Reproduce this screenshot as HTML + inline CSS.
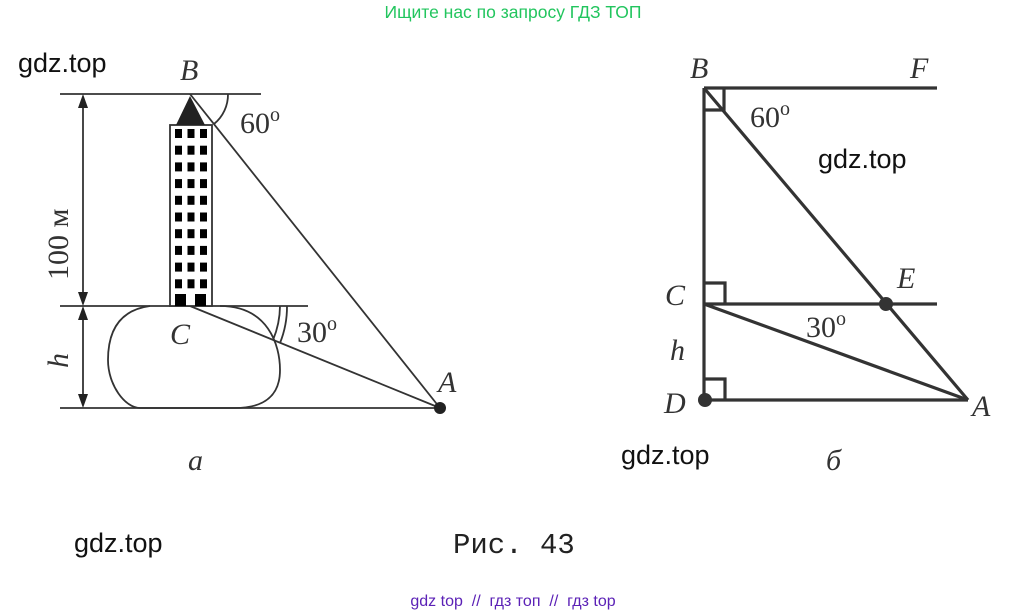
<!DOCTYPE html>
<html><head><meta charset="utf-8"><style>
body{margin:0;background:#fff;width:1027px;height:615px;overflow:hidden}
svg{display:block}
.s{font-family:"Liberation Serif",serif;font-style:italic;fill:#333;font-size:30px}
.n{font-family:"Liberation Serif",serif;fill:#333;font-size:30px}
.w{font-family:"Liberation Sans",sans-serif;fill:#111;font-size:27px}
</style></head><body>
<svg width="1027" height="615" viewBox="0 0 1027 615">
<text x="513" y="18" text-anchor="middle" font-family="Liberation Sans,sans-serif" font-size="17.5" fill="#22c55e">Ищите нас по запросу ГДЗ ТОП</text>
<text x="513" y="606" text-anchor="middle" font-family="Liberation Sans,sans-serif" font-size="16" fill="#5b21b6" xml:space="preserve">gdz top  //  гдз топ  //  гдз top</text>
<text class="w" x="18" y="72">gdz.top</text>
<text class="w" x="818" y="168">gdz.top</text>
<text class="w" x="621" y="464">gdz.top</text>
<text class="w" x="74" y="552">gdz.top</text>
<text x="453" y="553" font-family="Liberation Mono,monospace" font-size="29" fill="#222">Рис. 43</text>
<g stroke="#333" stroke-width="1.8" fill="none">
<line x1="60" y1="94" x2="261" y2="94"/>
<line x1="60" y1="306" x2="308" y2="306"/>
<line x1="60" y1="408" x2="440" y2="408"/>
<line x1="190" y1="94" x2="440" y2="408"/>
<line x1="190" y1="306" x2="440" y2="408"/>
<line x1="83" y1="100" x2="83" y2="300"/>
<line x1="83" y1="312" x2="83" y2="402"/>
<path d="M150 306 C120 310 108 330 108 360 C108 385 125 408 140 408 L235 408 C265 408 280 395 280 370 C280 345 268 306 220 306"/>
<path d="M228 94 A38 38 0 0 1 214 124"/>
<path d="M280 306 A90 90 0 0 1 273 340"/>
<path d="M287 306 A97 97 0 0 1 280 343"/>
<rect x="170" y="125" width="42" height="181" fill="#fff"/>
</g>
<g fill="#222">
<path d="M83 94 l-5 14 h10z M83 306 l-5 -14 h10z M83 306 l-5 14 h10z M83 408 l-5 -14 h10z"/>
<path d="M190 96 L176 125 L205 125 Z"/>
<circle cx="440" cy="408" r="6"/>
</g>
<g fill="#000">
<rect x="175" y="129" width="7" height="9"/><rect x="187.5" y="129" width="7" height="9"/><rect x="200" y="129" width="7" height="9"/>
<rect x="175" y="145.7" width="7" height="9"/><rect x="187.5" y="145.7" width="7" height="9"/><rect x="200" y="145.7" width="7" height="9"/>
<rect x="175" y="162.4" width="7" height="9"/><rect x="187.5" y="162.4" width="7" height="9"/><rect x="200" y="162.4" width="7" height="9"/>
<rect x="175" y="179.1" width="7" height="9"/><rect x="187.5" y="179.1" width="7" height="9"/><rect x="200" y="179.1" width="7" height="9"/>
<rect x="175" y="195.8" width="7" height="9"/><rect x="187.5" y="195.8" width="7" height="9"/><rect x="200" y="195.8" width="7" height="9"/>
<rect x="175" y="212.5" width="7" height="9"/><rect x="187.5" y="212.5" width="7" height="9"/><rect x="200" y="212.5" width="7" height="9"/>
<rect x="175" y="229.2" width="7" height="9"/><rect x="187.5" y="229.2" width="7" height="9"/><rect x="200" y="229.2" width="7" height="9"/>
<rect x="175" y="245.9" width="7" height="9"/><rect x="187.5" y="245.9" width="7" height="9"/><rect x="200" y="245.9" width="7" height="9"/>
<rect x="175" y="262.6" width="7" height="9"/><rect x="187.5" y="262.6" width="7" height="9"/><rect x="200" y="262.6" width="7" height="9"/>
<rect x="175" y="279.3" width="7" height="9"/><rect x="187.5" y="279.3" width="7" height="9"/><rect x="200" y="279.3" width="7" height="9"/>
<rect x="175" y="294" width="11" height="12"/><rect x="195" y="294" width="11" height="12"/>
</g>
<text class="s" x="180" y="80">B</text>
<text class="n" x="240" y="133">60<tspan dy="-12" font-size="20">o</tspan></text>
<text class="s" x="170" y="344">C</text>
<text class="n" x="297" y="342">30<tspan dy="-12" font-size="20">o</tspan></text>
<text class="s" x="438" y="392">A</text>
<text class="n" transform="translate(68 280) rotate(-90)" font-size="30">100 м</text>
<text class="s" transform="translate(68 368) rotate(-90)">h</text>
<text class="s" x="188" y="470">a</text>
<g stroke="#333" stroke-width="3.2" fill="none">
<line x1="704" y1="88" x2="937" y2="88"/>
<line x1="704" y1="88" x2="704" y2="400"/>
<line x1="704" y1="304" x2="937" y2="304"/>
<line x1="704" y1="400" x2="968" y2="400"/>
<line x1="704" y1="88" x2="968" y2="400"/>
<line x1="704" y1="304" x2="968" y2="400"/>
<path d="M704 110 H724 V88"/>
<path d="M704 283 H725 V304"/>
<path d="M704 379 H725 V400"/>
</g>
<g fill="#333"><circle cx="886" cy="304" r="7"/><circle cx="705" cy="400" r="7"/></g>
<text class="s" x="690" y="78">B</text>
<text class="s" x="910" y="78">F</text>
<text class="n" x="750" y="127">60<tspan dy="-12" font-size="20">o</tspan></text>
<text class="s" x="897" y="288">E</text>
<text class="s" x="665" y="305">C</text>
<text class="n" x="806" y="337">30<tspan dy="-12" font-size="20">o</tspan></text>
<text class="s" x="670" y="360">h</text>
<text class="s" x="664" y="413">D</text>
<text class="s" x="972" y="416">A</text>
<text class="s" x="826" y="470">б</text>
</svg>
</body></html>
